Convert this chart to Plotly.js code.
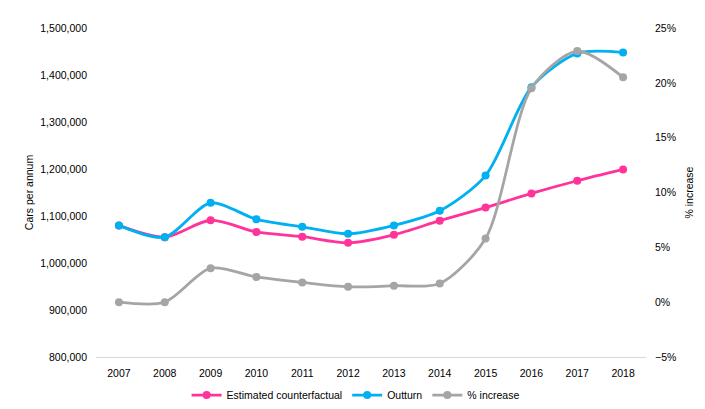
<!DOCTYPE html>
<html>
<head>
<meta charset="utf-8">
<script src="https://cdn.plot.ly/plotly-3.0.1.min.js"></script>
<style>html,body{margin:0;padding:0;background:#fff;}#chart{width:705px;height:409px;}</style>
</head>
<body>
<div id="chart"></div>
<script>
const years = ["2007","2008","2009","2010","2011","2012","2013","2014","2015","2016","2017","2018"];
const counterfactual = [1080000,1055000,1091000,1066000,1056000,1043000,1060000,1090000,1118000,1148000,1175000,1199000];
const outturn = [1080000,1055000,1128000,1093000,1077000,1062000,1080000,1111000,1186000,1374000,1446000,1448000];
const pctIncrease = [0.0,0.0,3.1,2.3,1.8,1.4,1.5,1.7,5.8,19.5,22.9,20.5];

const font = {family: "Liberation Sans, Arial, sans-serif", size: 10.5, color: "#000"};

const traces = [
  {x: years, y: counterfactual, name: "Estimated counterfactual", type: "scatter", mode: "lines+markers",
   line: {color: "#FF3399", width: 2.8, shape: "spline", smoothing: 0.8}, marker: {color: "#FF3399", size: 8}},
  {x: years, y: outturn, name: "Outturn", type: "scatter", mode: "lines+markers",
   line: {color: "#00B0F0", width: 2.8, shape: "spline", smoothing: 0.8}, marker: {color: "#00B0F0", size: 8}},
  {x: years, y: pctIncrease, name: "% increase", type: "scatter", mode: "lines+markers", yaxis: "y2",
   line: {color: "#A5A5A5", width: 2.8, shape: "spline", smoothing: 0.8}, marker: {color: "#A5A5A5", size: 8}}
];

const layout = {
  width: 705, height: 409,
  margin: {l: 96, r: 59, t: 28, b: 52, autoexpand: false},
  paper_bgcolor: "#fff", plot_bgcolor: "#fff",
  font: font,
  showlegend: true,
  legend: {orientation: "h", x: 0.472, xanchor: "center", yref: "container", y: 0.034, yanchor: "middle",
           font: font, traceorder: "normal"},
  xaxis: {type: "category", range: [-0.5, 11.5], showgrid: false, zeroline: false, automargin: false,
          showline: true, linecolor: "#D9D9D9", linewidth: 1, ticks: "", tickfont: font, ticklabelstandoff: 6},
  yaxis: {range: [800000, 1500000], dtick: 100000, tickformat: ",.0f", showgrid: false, zeroline: false,
          showline: false, ticks: "", tickfont: font, ticklabelstandoff: 8, automargin: false,
          title: {text: "Cars per annum", font: font, standoff: 4}},
  yaxis2: {overlaying: "y", side: "right", range: [-5, 25], dtick: 5, ticksuffix: "%", showgrid: false,
           zeroline: false, showline: false, ticks: "", tickfont: font, ticklabelstandoff: 8, automargin: false,
           title: {text: "% increase", font: font, standoff: 10}}
};

Plotly.newPlot("chart", traces, layout, {displayModeBar: false, staticPlot: true});
</script>
</body>
</html>
